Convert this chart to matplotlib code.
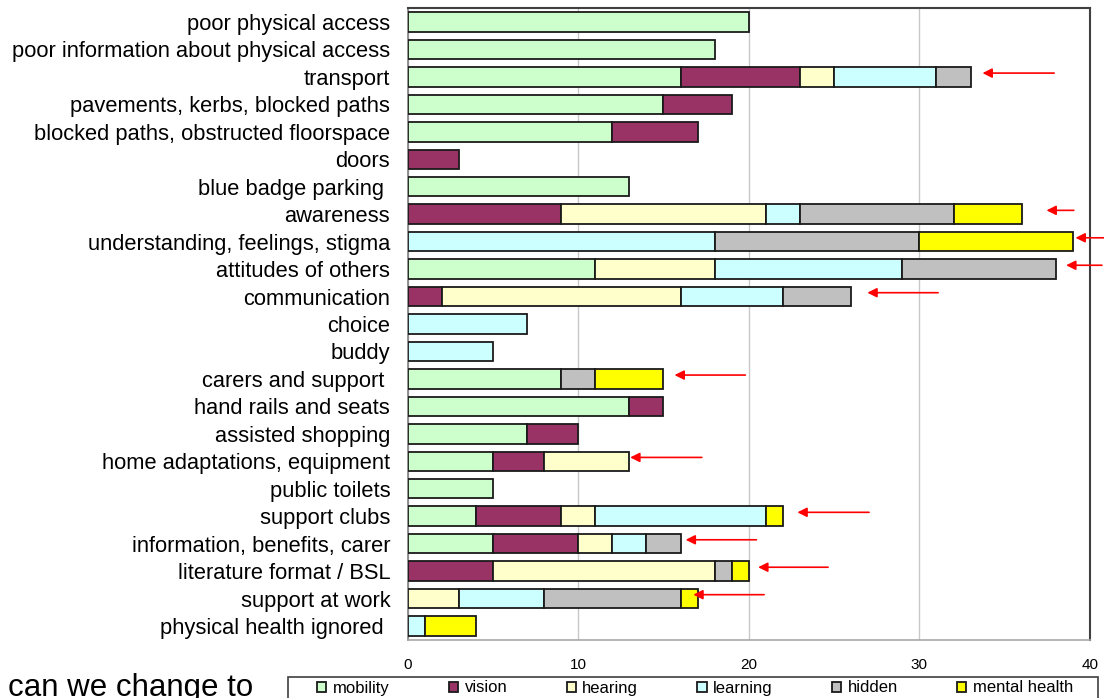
import numpy as np
import matplotlib
matplotlib.use("Agg")
import matplotlib.pyplot as plt
from matplotlib.patches import Rectangle

plt.rcParams["font.family"] = ["Liberation Sans", "DejaVu Sans"]

categories = [
    "poor physical access",
    "poor information about physical access",
    "transport",
    "pavements, kerbs, blocked paths",
    "blocked paths, obstructed floorspace",
    "doors",
    "blue badge parking ",
    "awareness",
    "understanding, feelings, stigma",
    "attitudes of others",
    "communication",
    "choice",
    "buddy",
    "carers and support ",
    "hand rails and seats",
    "assisted shopping",
    "home adaptations, equipment",
    "public toilets",
    "support clubs",
    "information, benefits, carer",
    "literature format / BSL",
    "support at work",
    "physical health ignored ",
]

mobility = [20, 18, 16, 15, 12, 0, 13, 0, 0, 11, 0, 0, 0, 9, 13, 7, 5, 5, 4, 5, 0, 0, 0]
vision = [0, 0, 7, 4, 5, 3, 0, 9, 0, 0, 2, 0, 0, 0, 2, 3, 3, 0, 5, 5, 5, 0, 0]
hearing = [0, 0, 2, 0, 0, 0, 0, 12, 0, 7, 14, 0, 0, 0, 0, 0, 5, 0, 2, 2, 13, 3, 0]
learning = [0, 0, 6, 0, 0, 0, 0, 2, 18, 11, 6, 7, 5, 0, 0, 0, 0, 0, 10, 2, 0, 5, 1]
hidden = [0, 0, 2, 0, 0, 0, 0, 9, 12, 9, 4, 0, 0, 2, 0, 0, 0, 0, 0, 2, 1, 8, 0]
mental_health = [0, 0, 0, 0, 0, 0, 0, 4, 9, 0, 0, 0, 0, 4, 0, 0, 0, 0, 1, 0, 1, 1, 3]

series_names = ["mobility", "vision", "hearing", "learning", "hidden", "mental health"]
series_values = [mobility, vision, hearing, learning, hidden, mental_health]
series_colors = ["#CCFFCC", "#993366", "#FFFFCC", "#CCFFFF", "#C0C0C0", "#FFFF00"]

x_ticks = [0, 10, 20, 30, 40]

# rows flagged with a red arrow: (category, gap after bar end, arrow length)
arrow_rows = [
    ("transport", 0.7, 4.2),
    ("awareness", 1.45, 1.6),
    ("understanding, feelings, stigma", 0.15, 1.8),
    ("attitudes of others", 0.6, 2.1),
    ("communication", 0.95, 4.15),
    ("carers and support ", 0.65, 4.15),
    ("home adaptations, equipment", 0.05, 4.2),
    ("support clubs", 0.85, 4.2),
    ("information, benefits, carer", 0.3, 4.15),
    ("literature format / BSL", 0.55, 4.1),
    ("support at work", -0.25, 4.15),
]

fig = plt.figure(figsize=(11.04, 6.98), dpi=100)
ax = fig.add_axes([407.5 / 1104, 1 - 639.7 / 698, 682.5 / 1104, 631.4 / 698])

y = np.arange(len(categories))
left = np.zeros(len(categories))
for name, vals, color in zip(series_names, series_values, series_colors):
    vals = np.array(vals, dtype=float)
    m = vals > 0
    ax.barh(y[m], vals[m], left=left[m], height=0.71, color=color,
            edgecolor="#1a1a1a", linewidth=1.3, label=name, zorder=3)
    left += vals

totals = left
for cat, gap, length in arrow_rows:
    i = categories.index(cat)
    head = totals[i] + gap
    ax.annotate("", xy=(head, i - 0.14), xytext=(head + length, i - 0.14),
                arrowprops=dict(arrowstyle="-|>", color="#FF0000", lw=1.2,
                                mutation_scale=14, shrinkA=0, shrinkB=0),
                annotation_clip=False, zorder=4)

ax.set_xlim(0, 40)
ax.set_ylim(len(categories) - 0.5, -0.5)
ax.set_xticks(x_ticks)
ax.set_yticks(y)
ax.set_yticklabels(categories, fontsize=15.75)
ax.tick_params(axis="y", length=0, pad=12.5)
ax.tick_params(axis="x", length=0, pad=13, labelsize=11)
ax.xaxis.grid(True, color="#C8C8C8", linewidth=1.0, zorder=0)
ax.set_axisbelow(True)

for side in ["top", "right"]:
    ax.spines[side].set_color("#404040")
    ax.spines[side].set_linewidth(1.5)
ax.spines["left"].set_color("#808080")
ax.spines["left"].set_linewidth(1.2)
ax.spines["bottom"].set_color("#A8A8A8")
ax.spines["bottom"].set_linewidth(1.2)

# legend row along the bottom edge, boxed by a separate frame
handles, labels = ax.get_legend_handles_labels()
fig.legend(handles, labels, loc="center left", ncol=6,
           bbox_to_anchor=(317 / 1104, 1 - 688 / 698), bbox_transform=fig.transFigure,
           frameon=False, fontsize=12, borderpad=0, borderaxespad=0,
           handlelength=0.55, handleheight=0.55, handletextpad=0.4,
           columnspacing=3.55)
fig.add_artist(Rectangle((288 / 1104, -0.05), 810 / 1104, 0.05 + 1 - 677 / 698,
                         transform=fig.transFigure, fill=False,
                         edgecolor="#404040", linewidth=1.2))

fig.text(8 / 1104, 2 / 698, "can we change to", fontsize=22.5,
         ha="left", va="baseline")

fig.savefig("out.png", dpi=100)
